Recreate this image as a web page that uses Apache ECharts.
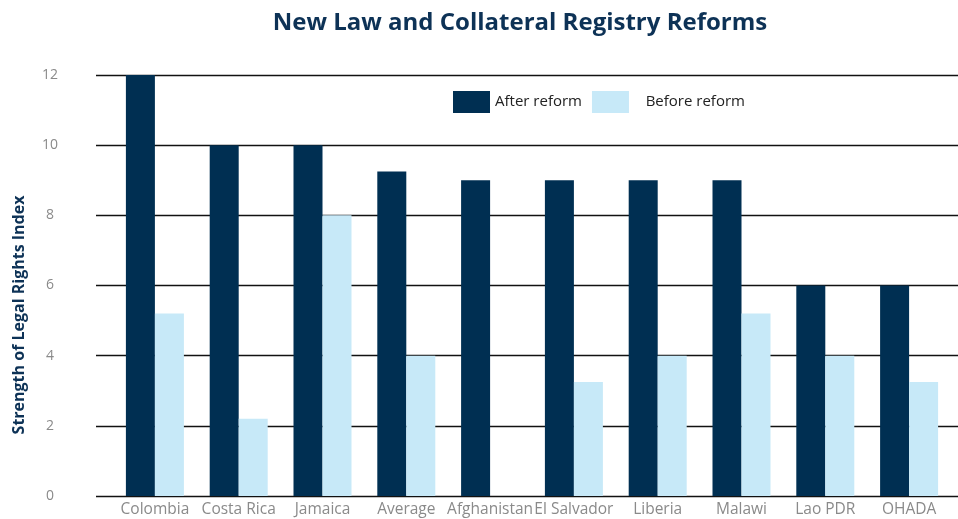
<!DOCTYPE html>
<html>
<head>
<meta charset="utf-8">
<script src="https://cdn.jsdelivr.net/npm/echarts@6/dist/echarts.min.js"></script>
<style>html,body{margin:0;padding:0;background:#fff}#c{width:958px;height:519px}</style>
</head>
<body>
<div id="c"></div>
<script>
const categories = ['Colombia','Costa Rica','Jamaica','Average','Afghanistan','El Salvador','Liberia','Malawi','Lao PDR','OHADA'];
const afterReform = [12, 10, 10, 9.25, 9, 9, 9, 9, 6, 6];
const beforeReform = [5.2, 2.2, 8, 4, 0, 3.25, 4, 5.2, 4, 3.25];
const yTicks = [0, 2, 4, 6, 8, 10, 12];

const DARK = '#002f52';
const LIGHT = '#c7e9f8';
const FONT = '"Open Sans", sans-serif';

const chart = echarts.init(document.getElementById('c'));
chart.setOption({
  animation: false,
  title: {
    text: 'New Law and Collateral Registry Reforms',
    left: 515, top: 6, textAlign: 'center',
    textStyle: { fontFamily: FONT, fontWeight: 'bold', fontSize: 24, color: '#0d3256' }
  },
  legend: {
    left: 453, top: 91, padding: 0,
    itemWidth: 37, itemHeight: 22, itemGap: 10,
    icon: 'rect',
    data: ['After reform', 'Before reform'],
    formatter: n => n === 'Before reform' ? '   ' + n : n,
    textStyle: { fontFamily: FONT, fontSize: 15, color: '#222' }
  },
  graphic: [{
    type: 'text',
    x: 19, y: 315,
    rotation: Math.PI / 2,
    style: {
      text: 'Strength of Legal Rights Index',
      fontFamily: FONT, fontWeight: 'bold', fontSize: 16, fill: '#0d3256',
      textAlign: 'center', textVerticalAlign: 'middle'
    }
  }],
  grid: [
    { left: 96, right: 0, top: 75, bottom: 23 },
    { left: 113, width: 838, top: 75, bottom: 23 }
  ],
  xAxis: [
    { type: 'category', gridIndex: 0, data: categories, show: false },
    {
      type: 'category', gridIndex: 1, data: categories,
      axisLine: { show: false }, axisTick: { show: false },
      axisLabel: { fontFamily: FONT, fontSize: 15.5, color: '#8a8a8a', margin: 6, interval: 0 }
    }
  ],
  yAxis: [
    {
      type: 'value', gridIndex: 0, min: 0, max: 12, interval: 2,
      axisLine: { show: false }, axisTick: { show: false },
      axisLabel: {
        fontFamily: FONT, fontSize: 14, color: '#8a8a8a', align: 'center', margin: 46,
        formatter: v => yTicks.includes(v) ? String(v) : ''
      },
      splitLine: { lineStyle: { color: '#111', width: 1.3 } }
    },
    { type: 'value', gridIndex: 1, min: 0, max: 12, interval: 2, show: false, splitLine: { show: false } }
  ],
  series: [
    {
      name: 'After reform', type: 'bar', xAxisIndex: 1, yAxisIndex: 1,
      data: afterReform, barWidth: 29, barGap: '0%', itemStyle: { color: DARK }
    },
    {
      name: 'Before reform', type: 'bar', xAxisIndex: 1, yAxisIndex: 1,
      data: beforeReform, barWidth: 29, barGap: '0%', itemStyle: { color: LIGHT }
    }
  ]
});
</script>
</body>
</html>
